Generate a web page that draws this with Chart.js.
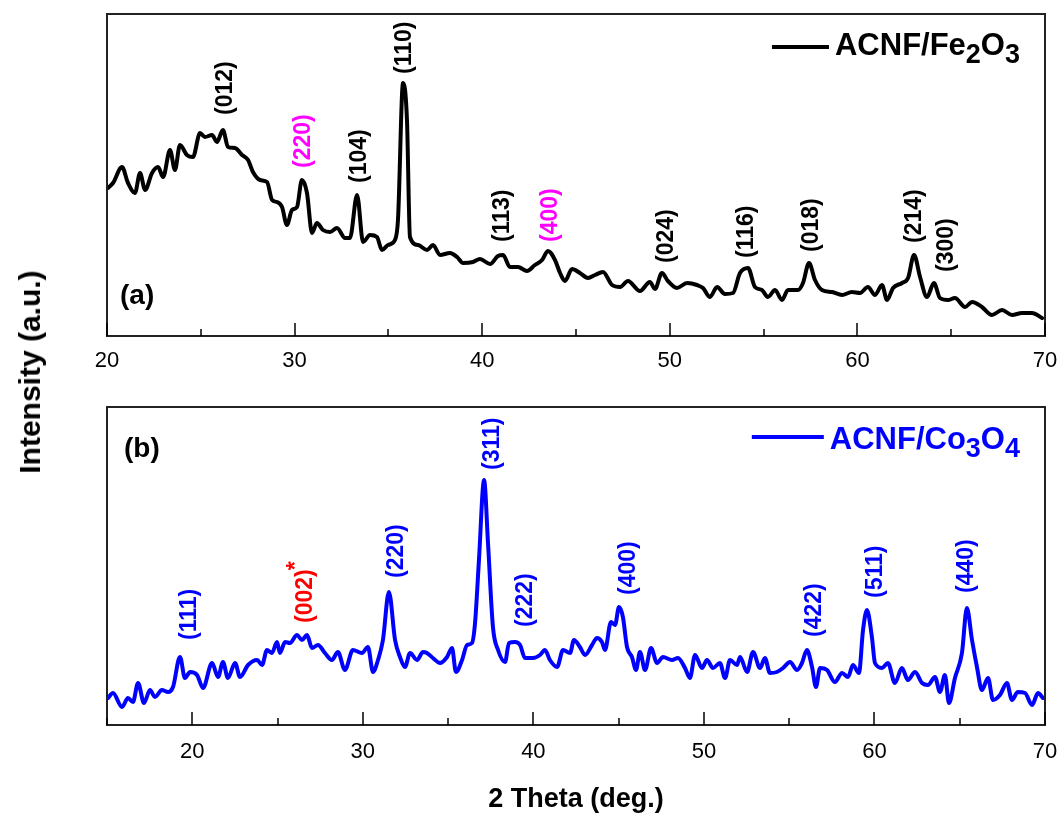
<!DOCTYPE html>
<html>
<head>
<meta charset="utf-8">
<script src="https://cdn.jsdelivr.net/npm/chart.js@4.4.1/dist/chart.umd.min.js"></script>
<style>
  html, body { margin: 0; padding: 0; background: #fff; }
  #wrap { position: relative; width: 1062px; height: 820px; font-family: Arial, "Liberation Sans", sans-serif; }
  #chartA { position: absolute; left: 0; top: 0; }
  #chartB { position: absolute; left: 0; top: 385px; }
  #ytitle {
    position: absolute; left: 30px; top: 372px;
    transform: translate(-50%, -50%) rotate(-90deg);
    font-weight: bold; font-size: 30px; white-space: nowrap; color: #000;
  }
</style>
</head>
<body>
<div id="wrap">
  <canvas id="chartA" width="1062" height="385"></canvas>
  <canvas id="chartB" width="1062" height="435"></canvas>
  <div id="ytitle">Intensity (a.u.)</div>
</div>
<script>
// (a) ACNF/Fe2O3 pattern, 2θ in degrees, intensity in arbitrary units
const aTheta = [20.05,20.32,20.80,21.12,21.49,21.76,22.03,22.40,22.72,22.99,
  23.36,23.62,23.89,24.26,24.58,24.96,25.22,25.60,25.86,26.18,
  26.45,26.82,27.20,27.52,27.78,28.16,28.53,28.80,29.06,29.33,
  29.59,29.86,30.13,30.39,30.66,30.93,31.19,31.51,31.89,32.26,
  32.69,32.95,33.33,33.65,34.02,34.39,34.66,34.98,35.35,35.51,
  35.78,35.99,36.15,36.58,37.06,37.38,37.75,38.28,38.66,38.98,
  39.51,39.88,40.42,40.84,41.11,41.48,41.91,42.39,42.81,43.19,
  43.51,43.88,44.15,44.41,44.79,45.21,45.64,46.01,46.44,46.92,
  47.35,47.77,48.41,48.94,49.21,49.58,49.90,50.38,50.92,51.45,
  51.77,52.14,52.52,52.94,53.37,53.74,54.17,54.54,54.91,55.23,
  55.61,55.98,56.30,56.83,57.10,57.42,57.74,58.11,58.65,59.18,
  59.71,60.14,60.56,60.94,61.31,61.58,61.90,62.38,62.70,63.02,
  63.34,63.71,64.08,64.40,64.83,65.20,65.74,66.11,66.64,67.17,
  67.71,68.24,68.77,69.31,69.84];
const aIntensity = [148,153,169,153,143,163,146,163,169,159,
  186,166,191,181,179,203,199,201,194,206,
  189,188,181,176,164,156,154,136,134,129,
  111,126,129,156,143,103,113,106,104,108,
  98,98,141,94,101,99,86,91,96,116,
  253,216,99,91,86,91,81,83,79,73,
  74,77,72,80,81,69,69,65,71,76,
  85,76,63,55,67,63,58,61,64,51,
  49,55,45,54,47,63,55,48,53,51,
  48,39,49,42,43,63,68,49,46,39,
  46,36,46,46,53,73,56,46,44,41,
  44,43,49,41,51,36,48,53,58,81,
  59,39,53,38,36,38,29,34,29,21,
  26,21,23,23,18];
const aPeakText = ['(012)','(220)','(104)','(110)','(113)','(400)','(024)','(116)','(018)','(214)','(300)'];
const aPeakTheta = [26.34,30.50,33.49,35.88,41.11,43.67,49.85,54.12,57.58,63.07,64.78];
const aPeakHeight = [221,168,153,262,94,94,73,78,84,93,64];

// (b) ACNF/Co3O4 pattern
const bTheta = [15.06,15.35,15.88,16.23,16.52,16.82,17.17,17.52,17.81,18.22,
  18.58,18.87,19.28,19.57,19.87,20.28,20.63,21.16,21.51,21.80,
  22.09,22.51,22.80,23.27,23.80,24.09,24.38,24.67,24.97,25.14,
  25.44,25.73,26.14,26.43,26.73,27.02,27.37,27.78,28.19,28.54,
  28.95,29.42,29.95,30.30,30.60,30.89,31.18,31.53,31.89,32.18,
  32.47,32.77,33.18,33.53,33.76,34.11,34.53,34.94,35.23,35.46,
  35.82,36.11,36.40,36.58,36.81,37.11,37.34,37.63,37.93,38.34,
  38.57,38.92,39.22,39.51,39.98,40.39,40.68,40.97,41.39,41.74,
  42.15,42.38,42.73,43.03,43.44,43.73,44.02,44.20,44.55,44.79,
  45.02,45.25,45.49,45.78,46.02,46.25,46.55,46.90,47.25,47.60,
  48.13,48.48,48.89,49.18,49.48,49.89,50.18,50.53,50.94,51.24,
  51.53,51.94,52.12,52.53,52.88,53.29,53.58,53.87,54.28,54.64,
  55.05,55.46,55.75,56.04,56.34,56.57,56.81,57.22,57.68,58.10,
  58.45,58.74,59.09,59.33,59.56,59.85,60.03,60.44,60.79,61.20,
  61.61,61.96,62.38,62.79,63.14,63.55,63.84,64.13,64.37,64.72,
  65.13,65.42,65.72,66.01,66.30,66.66,66.95,67.36,67.77,68.06,
  68.41,68.83,69.24,69.59,69.88];
const bIntensity = [27,32,18,27,23,42,22,35,28,35,
  33,38,68,47,53,50,37,62,48,63,
  47,62,48,60,65,60,75,72,83,72,
  83,82,90,85,90,77,80,72,65,73,
  55,75,72,78,53,65,85,133,85,68,
  58,72,65,73,72,67,62,68,77,53,
  65,80,82,102,165,245,182,98,75,63,
  82,83,80,67,67,70,75,65,58,75,
  72,85,78,70,80,87,83,75,103,100,
  118,108,78,68,55,73,55,77,62,68,
  65,67,57,47,70,57,65,57,62,47,
  65,60,68,53,73,57,67,52,53,57,
  63,55,62,75,58,38,57,55,43,52,
  48,60,52,95,115,88,62,57,62,42,
  57,45,53,42,40,48,33,50,22,47,
  72,117,85,58,35,47,25,30,42,25,
  33,32,20,32,27];
const bPeakText = ['(111)','(002)*','(220)','(311)','(222)','(400)','(422)','(511)','(440)'];
const bPeakTheta = [19.87,26.67,32.00,37.63,39.57,45.61,56.51,60.09,65.42];
const bPeakHeight = [85,102,147,255,98,130,88,127,132];

const FONT = 'Arial, "Liberation Sans", sans-serif';

// per-panel decoration (frame, inward ticks, hkl labels, legend)
const decor = {
  chartA: {
    panel: '(a)', panelDx: 13, panelDy: -32, panelFromBottom: true,
    series: 'ACNF/Fe2O3', color: '#000000', lineLen: 57, lineDy: 33, baseDy: 41,
    peaks: [aPeakText, aPeakTheta, aPeakHeight],
    peakColor: t => (t === '(220)' || t === '(400)') ? '#ff00ff' : '#000000'
  },
  chartB: {
    panel: '(b)', panelDx: 17, panelDy: 50, panelFromBottom: false,
    series: 'ACNF/Co3O4', color: '#0000ff', lineLen: 72, lineDy: 30, baseDy: 42,
    peaks: [bPeakText, bPeakTheta, bPeakHeight],
    peakColor: t => t.startsWith('(002)') ? '#ff0000' : '#0000ff'
  }
};

const xrdDecor = {
  id: 'xrdDecor',
  afterDatasetsDraw(chart) {
    const d = decor[chart.canvas.id];
    const {ctx, chartArea: a} = chart;
    const x = chart.scales.x, y = chart.scales.y;
    ctx.save();

    // hkl labels, rotated
    ctx.font = 'bold 23px ' + FONT;
    ctx.textAlign = 'left';
    ctx.textBaseline = 'middle';
    const [txt, th, hh] = d.peaks;
    txt.forEach((t, i) => {
      ctx.save();
      ctx.translate(x.getPixelForValue(th[i]), y.getPixelForValue(hh[i]));
      ctx.rotate(-Math.PI / 2);
      ctx.fillStyle = d.peakColor(t);
      const star = t.endsWith('*');
      const label = star ? t.slice(0, -1) : t;
      ctx.fillText(label, 0, 0);
      if (star) ctx.fillText('*', ctx.measureText(label).width - 1, -9);
      ctx.restore();
    });

    // frame
    ctx.strokeStyle = '#222';
    ctx.lineWidth = 2;
    ctx.strokeRect(a.left, a.top, a.right - a.left, a.bottom - a.top);

    // inward ticks on the bottom axis
    ctx.lineWidth = 1.5;
    ctx.strokeStyle = '#000';
    x.ticks.forEach(tk => {
      const px = Math.round(x.getPixelForValue(tk.value));
      const len = tk.value % 10 === 0 ? 13 : 7;
      ctx.beginPath();
      ctx.moveTo(px, a.bottom);
      ctx.lineTo(px, a.bottom - len);
      ctx.stroke();
    });

    // panel letter
    ctx.fillStyle = '#000';
    ctx.font = 'bold 28px ' + FONT;
    ctx.textBaseline = 'alphabetic';
    ctx.fillText(d.panel, a.left + d.panelDx, (d.panelFromBottom ? a.bottom : a.top) + d.panelDy);

    // legend with subscripts (digits in the formula)
    const parts = d.series.split(/(\d)/).filter(s => s.length);
    const big = 'bold 31px ' + FONT, small = 'bold 27px ' + FONT;
    let total = 0;
    parts.forEach(p => { ctx.font = /\d/.test(p) ? small : big; total += ctx.measureText(p).width; });
    let cx = a.right - 25 - total;
    ctx.strokeStyle = d.color;
    ctx.lineWidth = 4;
    ctx.beginPath();
    ctx.moveTo(cx - 6 - d.lineLen, a.top + d.lineDy);
    ctx.lineTo(cx - 6, a.top + d.lineDy);
    ctx.stroke();
    ctx.fillStyle = d.color;
    parts.forEach(p => {
      const sub = /\d/.test(p);
      ctx.font = sub ? small : big;
      ctx.fillText(p, cx, a.top + d.baseDy + (sub ? 8 : 0));
      cx += ctx.measureText(p).width;
    });
    ctx.restore();
  }
};

function makeChart(id, theta, inten, color, xmin, ymax, padTop, axisH, tickPad, title) {
  return new Chart(document.getElementById(id), {
    type: 'line',
    data: {
      datasets: [{
        label: decor[id].series,
        data: theta.map((t, i) => ({x: t, y: inten[i]})),
        borderColor: color,
        borderWidth: 4,
        pointRadius: 0,
        cubicInterpolationMode: 'monotone',
        borderJoinStyle: 'round',
        borderCapStyle: 'round',
        fill: false
      }]
    },
    options: {
      responsive: false,
      animation: false,
      layout: {padding: {left: 107, right: 17, top: padTop, bottom: 0}},
      plugins: {legend: {display: false}, tooltip: {enabled: false}},
      scales: {
        x: {
          type: 'linear', min: xmin, max: 70,
          grid: {display: false, drawTicks: false},
          border: {display: false},
          ticks: {
            stepSize: 5, autoSkip: false, maxRotation: 0, padding: tickPad,
            color: '#000', font: {family: FONT, size: 22},
            callback: v => v % 10 === 0 ? String(v) : ''
          },
          title: title ? {
            display: true, text: title, color: '#000',
            font: {family: FONT, size: 27, weight: 'bold'}, padding: {top: 0, bottom: 4}
          } : {display: false},
          afterFit: s => { s.height = axisH; s.paddingLeft = 0; s.paddingRight = 0; }
        },
        y: {type: 'linear', min: 0, max: ymax, display: false}
      }
    },
    plugins: [xrdDecor]
  });
}

makeChart('chartA', aTheta, aIntensity, '#000000', 20, 322, 14, 49, 12, null);
makeChart('chartB', bTheta, bIntensity, '#0000ff', 15, 318, 22, 95, 14, '2 Theta (deg.)');
</script>
</body>
</html>
